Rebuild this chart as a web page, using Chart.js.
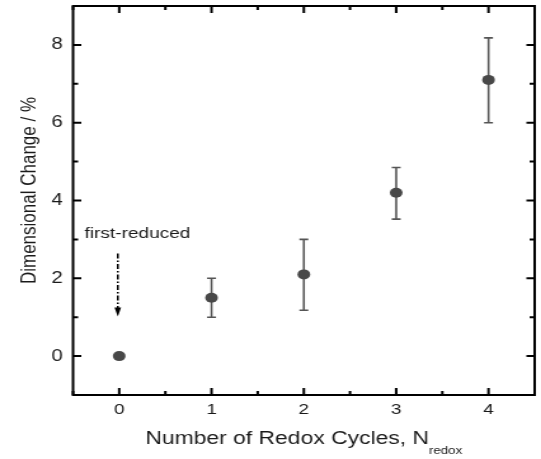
<!DOCTYPE html>
<html>
<head>
<meta charset="utf-8">
<script src="https://cdn.jsdelivr.net/npm/chart.js@4.4.0/dist/chart.umd.min.js"></script>
<style>
html, body { margin: 0; padding: 0; background: #fff; overflow: hidden; }
/* the source figure is stretched sideways, so draw narrow and widen it */
#wrap { position: absolute; left: 0; top: 0; width: 426px; height: 459px; transform: scaleX(1.27); transform-origin: 0 0; }
</style>
</head>
<body>
<div id="wrap"><canvas id="chart"></canvas></div>
<script>
var cycles = [0, 1, 2, 3, 4];
var dimChange = [0, 1.5, 2.1, 4.2, 7.1];
var errLow = [null, 1.0, 1.18, 3.52, 6.0];
var errHigh = [null, 2.0, 3.0, 4.85, 8.18];
var xTickLabels = ['0', '1', '2', '3', '4'];
var yTickLabels = ['0', '2', '4', '6', '8'];

// note and arrow, in data units
var noteText = 'first-reduced';
var noteAt = [-0.375, 3.03];
var arrowX = -0.015;
var arrowFrom = 2.64;
var arrowTo = 1.02;

var FONT = '"Liberation Sans", Arial, sans-serif';
var INK = '#1a1a1a';

var pts = cycles.map(function (c, i) { return { x: c, y: dimChange[i] }; });

var errorBars = {
    id: 'errorBars',
    beforeDatasetsDraw: function (chart) {
        var ctx = chart.ctx, xs = chart.scales.x, ys = chart.scales.y;
        ctx.save();
        ctx.strokeStyle = '#555';
        ctx.lineWidth = 1.6;
        cycles.forEach(function (c, i) {
            if (errLow[i] == null) return;
            var px = xs.getPixelForValue(c);
            var lo = ys.getPixelForValue(errLow[i]);
            var hi = ys.getPixelForValue(errHigh[i]);
            ctx.beginPath();
            ctx.moveTo(px, lo); ctx.lineTo(px, hi);
            ctx.moveTo(px - 3.5, lo); ctx.lineTo(px + 3.5, lo);
            ctx.moveTo(px - 3.5, hi); ctx.lineTo(px + 3.5, hi);
            ctx.stroke();
        });
        ctx.restore();
    }
};

var frame = {
    id: 'frame',
    afterDraw: function (chart) {
        var ctx = chart.ctx, a = chart.chartArea;
        var xs = chart.scales.x, ys = chart.scales.y;
        ctx.save();
        ctx.strokeStyle = '#000';
        ctx.lineWidth = 2;
        ctx.strokeRect(a.left, a.top, a.right - a.left, a.bottom - a.top);

        // inward ticks on all four sides
        ctx.beginPath();
        xs.ticks.forEach(function (t) {
            var px = xs.getPixelForValue(t.value);
            var len = Number.isInteger(t.value) ? 7 : 4;
            ctx.moveTo(px, a.bottom); ctx.lineTo(px, a.bottom - len);
            ctx.moveTo(px, a.top); ctx.lineTo(px, a.top + len);
        });
        ys.ticks.forEach(function (t) {
            var py = ys.getPixelForValue(t.value);
            var len = (t.value % 2 === 0) ? 6.5 : 4;
            ctx.moveTo(a.left, py); ctx.lineTo(a.left + len, py);
            ctx.moveTo(a.right, py); ctx.lineTo(a.right - len, py);
        });
        ctx.stroke();

        // axis titles
        ctx.fillStyle = INK;
        ctx.save();
        ctx.translate(28.3, (a.top + a.bottom) / 2 - 10);
        ctx.rotate(-Math.PI / 2);
        ctx.font = '17px ' + FONT;
        ctx.textAlign = 'center';
        ctx.textBaseline = 'alphabetic';
        ctx.fillText('Dimensional Change / %', 0, 0);
        ctx.restore();

        var main = 'Number of Redox Cycles, N', sub = 'redox';
        ctx.font = '18px ' + FONT;
        var w1 = ctx.measureText(main).width;
        ctx.font = '10.5px ' + FONT;
        var w2 = ctx.measureText(sub).width;
        var x0 = (a.left + a.right) / 2 - (w1 + w2) / 2;
        ctx.textAlign = 'left';
        ctx.textBaseline = 'alphabetic';
        ctx.font = '18px ' + FONT;
        ctx.fillText(main, x0, 444);
        ctx.font = '10.5px ' + FONT;
        ctx.fillText(sub, x0 + w1, 454);

        // note with dash-dot arrow
        ctx.font = '15px ' + FONT;
        ctx.fillText(noteText, xs.getPixelForValue(noteAt[0]), ys.getPixelForValue(noteAt[1]));

        var ax = xs.getPixelForValue(arrowX);
        var y1 = ys.getPixelForValue(arrowFrom);
        var y2 = ys.getPixelForValue(arrowTo);
        ctx.strokeStyle = '#000';
        ctx.lineWidth = 1.5;
        ctx.setLineDash([5, 2, 1.5, 2]);
        ctx.beginPath();
        ctx.moveTo(ax, y1); ctx.lineTo(ax, y2 - 8);
        ctx.stroke();
        ctx.setLineDash([]);
        ctx.fillStyle = '#000';
        ctx.beginPath();
        ctx.moveTo(ax - 2.6, y2 - 9);
        ctx.lineTo(ax + 2.6, y2 - 9);
        ctx.lineTo(ax, y2);
        ctx.closePath();
        ctx.fill();
        ctx.restore();
    }
};

var ctx = document.getElementById('chart').getContext('2d');
var chart = new Chart(ctx, {
    type: 'scatter',
    data: {
        datasets: [{
            label: 'Dimensional change',
            data: pts,
            backgroundColor: '#484848',
            borderWidth: 0,
            pointRadius: 5,
            pointHoverRadius: 5
        }]
    },
    options: {
        responsive: true,
        maintainAspectRatio: false,
        animation: false,
        events: [],
        layout: { padding: { top: 6, right: 3.2, left: 0, bottom: 0 } },
        plugins: { legend: { display: false }, tooltip: { enabled: false } },
        scales: {
            x: {
                type: 'linear',
                min: -0.5,
                max: 4.5,
                grid: { display: false, drawTicks: false },
                border: { display: false },
                afterFit: function (s) {
                    s.height = 64;
                    s.paddingLeft = 0; s.paddingRight = 0;
                },
                ticks: {
                    stepSize: 0.5,
                    autoSkip: false,
                    maxRotation: 0,
                    padding: 6,
                    color: INK,
                    font: { family: FONT, size: 15 },
                    callback: function (v) {
                        var s = String(v);
                        return xTickLabels.indexOf(s) >= 0 ? s : '';
                    }
                }
            },
            y: {
                type: 'linear',
                min: -1,
                max: 9,
                grid: { display: false, drawTicks: false },
                border: { display: false },
                afterFit: function (s) {
                    s.width = 57.5;
                    s.paddingTop = 0; s.paddingBottom = 0;
                },
                ticks: {
                    stepSize: 1,
                    padding: 8,
                    color: INK,
                    font: { family: FONT, size: 16 },
                    callback: function (v) {
                        var s = String(v);
                        return yTickLabels.indexOf(s) >= 0 ? s : '';
                    }
                }
            }
        }
    },
    plugins: [errorBars, frame]
});
</script>
</body>
</html>
